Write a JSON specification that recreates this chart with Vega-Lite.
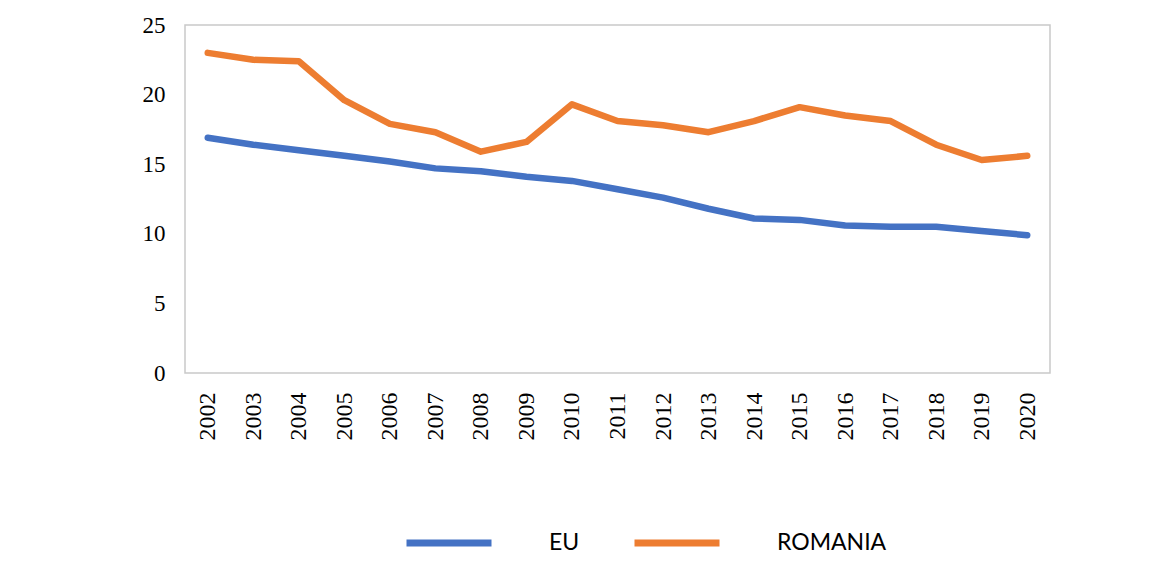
{
  "$schema": "https://vega.github.io/schema/vega-lite/v6.json",
  "autosize": {"type": "none"},
  "width": 865,
  "height": 348,
  "padding": {"left": 185, "top": 25, "right": 114, "bottom": 197},
  "background": "white",
  "config": {
    "view": {"stroke": "#C9C9C9", "strokeWidth": 1.5},
    "axis": {"domain": false, "ticks": false, "grid": false, "labelFont": "Liberation Serif", "labelColor": "black", "title": null}
  },
  "data": {
    "values": [
      {"year": "2002", "series": "EU", "value": 16.9},
      {"year": "2003", "series": "EU", "value": 16.4},
      {"year": "2004", "series": "EU", "value": 16.0},
      {"year": "2005", "series": "EU", "value": 15.6},
      {"year": "2006", "series": "EU", "value": 15.2},
      {"year": "2007", "series": "EU", "value": 14.7},
      {"year": "2008", "series": "EU", "value": 14.5},
      {"year": "2009", "series": "EU", "value": 14.1},
      {"year": "2010", "series": "EU", "value": 13.8},
      {"year": "2011", "series": "EU", "value": 13.2},
      {"year": "2012", "series": "EU", "value": 12.6},
      {"year": "2013", "series": "EU", "value": 11.8},
      {"year": "2014", "series": "EU", "value": 11.1},
      {"year": "2015", "series": "EU", "value": 11.0},
      {"year": "2016", "series": "EU", "value": 10.6},
      {"year": "2017", "series": "EU", "value": 10.5},
      {"year": "2018", "series": "EU", "value": 10.5},
      {"year": "2019", "series": "EU", "value": 10.2},
      {"year": "2020", "series": "EU", "value": 9.9},
      {"year": "2002", "series": "ROMANIA", "value": 23.0},
      {"year": "2003", "series": "ROMANIA", "value": 22.5},
      {"year": "2004", "series": "ROMANIA", "value": 22.4},
      {"year": "2005", "series": "ROMANIA", "value": 19.6},
      {"year": "2006", "series": "ROMANIA", "value": 17.9},
      {"year": "2007", "series": "ROMANIA", "value": 17.3},
      {"year": "2008", "series": "ROMANIA", "value": 15.9},
      {"year": "2009", "series": "ROMANIA", "value": 16.6},
      {"year": "2010", "series": "ROMANIA", "value": 19.3},
      {"year": "2011", "series": "ROMANIA", "value": 18.1},
      {"year": "2012", "series": "ROMANIA", "value": 17.8},
      {"year": "2013", "series": "ROMANIA", "value": 17.3},
      {"year": "2014", "series": "ROMANIA", "value": 18.1},
      {"year": "2015", "series": "ROMANIA", "value": 19.1},
      {"year": "2016", "series": "ROMANIA", "value": 18.5},
      {"year": "2017", "series": "ROMANIA", "value": 18.1},
      {"year": "2018", "series": "ROMANIA", "value": 16.4},
      {"year": "2019", "series": "ROMANIA", "value": 15.3},
      {"year": "2020", "series": "ROMANIA", "value": 15.6}
    ]
  },
  "mark": {"type": "line", "strokeWidth": 6.5, "strokeCap": "round", "strokeJoin": "round"},
  "encoding": {
    "x": {
      "field": "year", "type": "ordinal",
      "scale": {"type": "point", "padding": 0.5},
      "axis": {"labelAngle": 270, "labelFontSize": 24, "labelPadding": 19, "labelAlign": "right", "labelBaseline": "middle"}
    },
    "y": {
      "field": "value", "type": "quantitative",
      "scale": {"domain": [0, 25], "nice": false},
      "axis": {"values": [0, 5, 10, 15, 20, 25], "labelFontSize": 23, "labelPadding": 20}
    },
    "color": {
      "field": "series", "type": "nominal",
      "scale": {"domain": ["EU", "ROMANIA"], "range": ["#4472C4", "#ED7D31"]},
      "legend": {
        "title": null,
        "orient": "none",
        "direction": "horizontal",
        "legendX": 218,
        "legendY": 472,
        "symbolType": "stroke",
        "symbolSize": 7225,
        "symbolStrokeWidth": 7,
        "labelFont": "Lato",
        "labelFontSize": 23,
        "labelColor": "black",
        "labelOffset": 54,
        "columnPadding": 40,
        "labelLimit": 300
      }
    }
  }
}
